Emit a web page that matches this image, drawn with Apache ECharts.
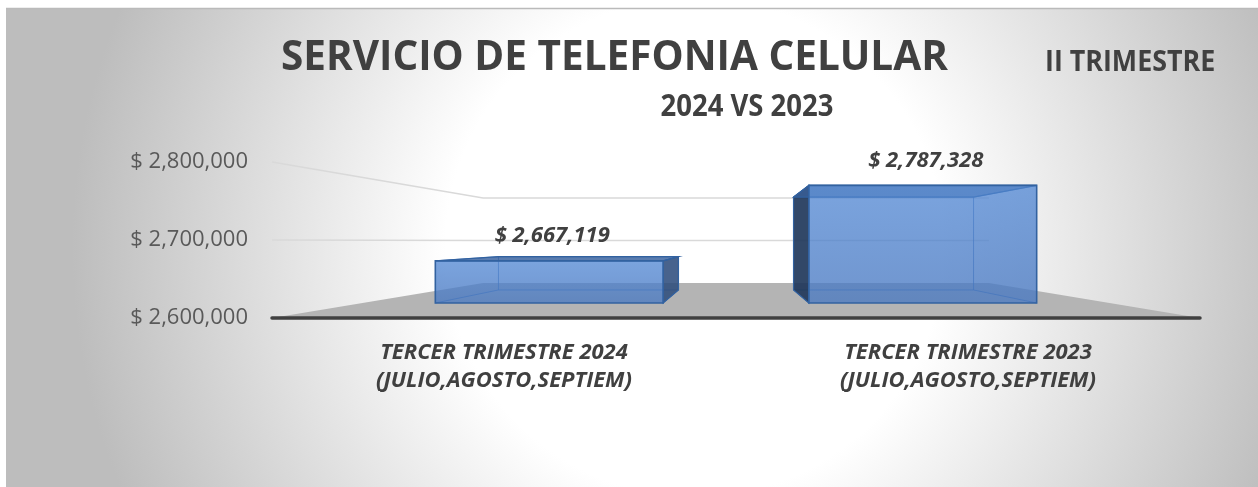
<!DOCTYPE html>
<html>
<head>
<meta charset="utf-8">
<title>Servicio de telefonia celular</title>
<script src="https://cdn.jsdelivr.net/npm/echarts@6/dist/echarts.min.js"></script>
<style>
  html, body { margin: 0; padding: 0; background: #fff; }
  #chart { width: 1258px; height: 487px; }
</style>
</head>
<body>
<div id="chart"></div>
<script>
// datos
const categorias = [
  "TERCER TRIMESTRE 2024\n(JULIO,AGOSTO,SEPTIEM)",
  "TERCER TRIMESTRE 2023\n(JULIO,AGOSTO,SEPTIEM)"
];
const importes = [2667119, 2787328];
const ejeMin = 2600000;
const ejeMax = 2800000;
const ejeIntervalo = 100000;
const lineasGuia = [2700000, 2800000];

const fuente = '"Open Sans", "Liberation Sans", sans-serif';
const gris = "#404040";

// perspectiva 3D estilo Excel: cada plano se escala hacia el punto de fuga
const escalaFrente = 0.805; // cara frontal de la barra
const escalaFondo = 0.636;  // cara trasera de la barra
const escalaPared = 0.545;  // pared del fondo

function fmt(v) {
  return "$ " + v.toLocaleString("en-US");
}

// punto de fuga: centro horizontal del grid, a la altura de 2,700,000
function puntoFuga(params, api) {
  let cs = params.coordSys;
  let p = api.coord([0, 2700000]);
  return [cs.x + cs.width / 2, p[1] + 1];
}

function proyectar(vp, pt, s) {
  return [vp[0] + s * (pt[0] - vp[0]), vp[1] + s * (pt[1] - vp[1])];
}

// piso, paredes y lineas de guia
function dibujarPiso(params, api) {
  let cs = params.coordSys;
  let vp = puntoFuga(params, api);
  let x0 = cs.x;
  let x1 = cs.x + cs.width;
  let yBase = api.coord([0, ejeMin])[1];
  let izq = [x0, yBase];
  let der = [x1, yBase];
  let hijos = [];
  lineasGuia.forEach(function (v) {
    let y = api.coord([0, v])[1];
    let a = [x0, y];
    let b = [x1, y];
    hijos.push({
      type: "polyline",
      shape: { points: [a, proyectar(vp, a, escalaPared), proyectar(vp, b, escalaPared)] },
      style: { stroke: "#d9d9d9", lineWidth: 1.5, fill: null }
    });
  });
  hijos.push({
    type: "polygon",
    shape: { points: [izq, der, proyectar(vp, der, escalaPared), proyectar(vp, izq, escalaPared)] },
    style: { fill: "#b4b4b4" }
  });
  hijos.push({
    type: "line",
    shape: { x1: izq[0], y1: izq[1], x2: der[0], y2: der[1] },
    style: { stroke: gris, lineWidth: 3.5, lineCap: "round" }
  });
  return { type: "group", children: hijos };
}

// caja 3D transparente para cada barra
function dibujarCaja(params, api) {
  let vp = puntoFuga(params, api);
  let idx = api.value(0);
  let val = api.value(1);
  let arriba = api.coord([idx, val]);
  let base = api.coord([idx, ejeMin]);
  let w = api.size([1, 0])[0] * 0.61;
  let esquinas = [
    [arriba[0] - w / 2, arriba[1]],
    [arriba[0] + w / 2, arriba[1]],
    [arriba[0] + w / 2, base[1]],
    [arriba[0] - w / 2, base[1]]
  ];
  let F = esquinas.map(function (p) { return proyectar(vp, p, escalaFrente); });
  let B = esquinas.map(function (p) { return proyectar(vp, p, escalaFondo); });
  let borde = "#3262a0";
  let interno = "rgba(60,110,180,0.75)";
  let caraIzq = [F[0], B[0], B[3], F[3]];
  let caraDer = [F[1], B[1], B[2], F[2]];
  let derVisible = F[1][0] < vp[0];
  let hijos = [];
  // caras traseras (se ven a traves del frente)
  hijos.push({
    type: "polygon",
    shape: { points: B },
    style: { fill: "rgba(68,114,196,0.32)", stroke: interno, lineWidth: 1 }
  });
  hijos.push({
    type: "polygon",
    shape: { points: [F[3], F[2], B[2], B[3]] },
    style: { fill: "rgba(68,114,196,0.25)" }
  });
  hijos.push({
    type: "polygon",
    shape: { points: derVisible ? caraIzq : caraDer },
    style: { fill: "rgba(68,114,196,0.32)" }
  });
  // aristas internas
  for (let i = 0; i < 4; i++) {
    hijos.push({
      type: "line",
      shape: { x1: F[i][0], y1: F[i][1], x2: B[i][0], y2: B[i][1] },
      style: { stroke: interno, lineWidth: 1 }
    });
  }
  // cara lateral visible
  hijos.push({
    type: "polygon",
    shape: { points: derVisible ? caraDer : caraIzq },
    style: {
      fill: derVisible ? "rgba(45,75,120,0.82)" : "rgba(30,52,85,0.88)",
      stroke: borde,
      lineWidth: 1.2
    }
  });
  // tapa
  hijos.push({
    type: "polygon",
    shape: { points: [F[0], F[1], B[1], B[0]] },
    style: { fill: "rgba(55,95,155,0.75)", stroke: borde, lineWidth: 1.2 }
  });
  // cara frontal
  hijos.push({
    type: "polygon",
    shape: { points: F },
    style: {
      fill: new echarts.graphic.LinearGradient(0, 0, 0, 1, [
        { offset: 0, color: "rgba(85,140,215,0.66)" },
        { offset: 1, color: "rgba(72,120,192,0.68)" }
      ]),
      stroke: borde,
      lineWidth: 1.6
    }
  });
  // etiqueta del valor
  let cx = (F[0][0] + F[1][0]) / 2;
  hijos.push({
    type: "text",
    x: cx + 3,
    y: F[0][1] - 25,
    style: {
      text: fmt(val),
      align: "center",
      verticalAlign: "middle",
      fill: gris,
      font: "italic bold 22px " + fuente
    }
  });
  return { type: "group", children: hijos };
}

let myChart = echarts.init(document.getElementById("chart"));
myChart.setOption({
  animation: false,
  graphic: [
    {
      type: "rect",
      z: -10,
      shape: { x: 6, y: 8, width: 1252, height: 479 },
      style: {
        fill: new echarts.graphic.RadialGradient(0.55, 0.5, 1.3, [
          { offset: 0, color: "#ffffff" },
          { offset: 0.4, color: "#ffffff" },
          { offset: 1, color: "#bdbdbd" }
        ])
      }
    },
    {
      type: "line",
      z: -9,
      shape: { x1: 6, y1: 8.5, x2: 1258, y2: 8.5 },
      style: { stroke: "#bababa", lineWidth: 1.5 }
    },
    {
      type: "text",
      x: 281, y: 58,
      scaleX: 0.964,
      style: { text: "SERVICIO DE TELEFONIA CELULAR", font: "bold 42px " + fuente, fill: gris, align: "left", verticalAlign: "middle" }
    },
    {
      type: "text",
      x: 1045, y: 63,
      scaleX: 0.925,
      style: { text: "II TRIMESTRE", font: "bold 29px " + fuente, fill: gris, align: "left", verticalAlign: "middle" }
    },
    {
      type: "text",
      x: 747, y: 107,
      scaleX: 0.886,
      style: { text: "2024 VS 2023", font: "bold 31px " + fuente, fill: gris, align: "center", verticalAlign: "middle" }
    }
  ],
  grid: { left: 272, right: 58, top: 162, bottom: 169 },
  xAxis: {
    type: "category",
    data: categorias,
    axisLine: { show: false },
    axisTick: { show: false },
    axisLabel: {
      margin: 21,
      color: gris,
      fontFamily: fuente,
      fontSize: 22,
      fontWeight: "bold",
      fontStyle: "italic",
      lineHeight: 28
    }
  },
  yAxis: {
    type: "value",
    min: ejeMin,
    max: ejeMax,
    interval: ejeIntervalo,
    axisLine: { show: false },
    axisTick: { show: false },
    splitLine: { show: false },
    axisLabel: {
      margin: 24,
      color: "#595959",
      fontFamily: fuente,
      fontSize: 22,
      formatter: fmt
    }
  },
  series: [
    {
      type: "custom",
      z: 1,
      silent: true,
      renderItem: dibujarPiso,
      data: [[0]]
    },
    {
      type: "custom",
      z: 2,
      renderItem: dibujarCaja,
      data: importes.map(function (v, i) { return [i, v]; })
    }
  ]
});
</script>
</body>
</html>
